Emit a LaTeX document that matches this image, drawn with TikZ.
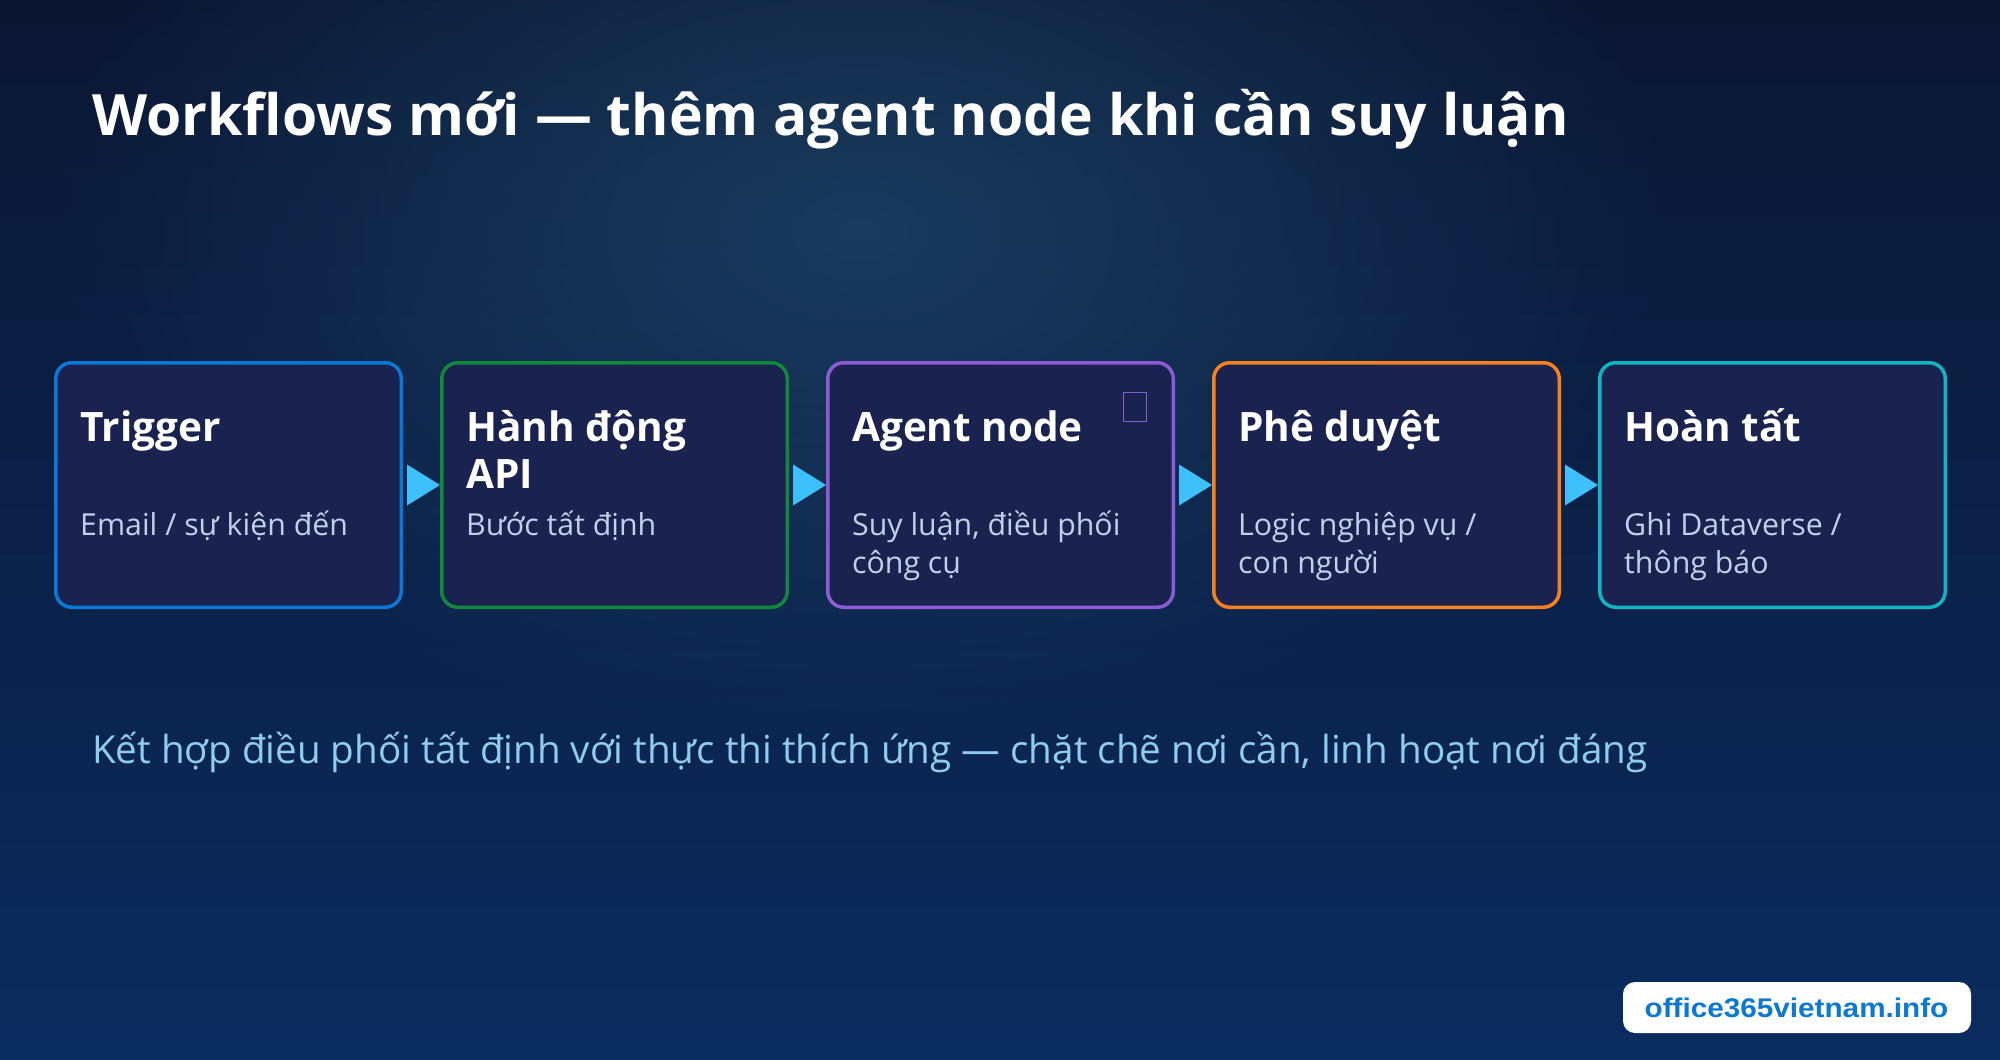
\documentclass[tikz,border=0pt]{standalone}
\usepackage{fontspec}
\setmainfont{Open Sans}
\newfontfamily\badgefont{Liberation Sans}
\usetikzlibrary{fadings,calc}
\definecolor{bgtop}{HTML}{0B1632}
\definecolor{bgbot}{HTML}{0B2C5F}
\definecolor{glowc}{HTML}{1D4467}
\definecolor{boxfill}{HTML}{1A234F}
\definecolor{c1}{HTML}{0B78D8}
\definecolor{c2}{HTML}{12893A}
\definecolor{c3}{HTML}{8B5CD6}
\definecolor{c4}{HTML}{F5821F}
\definecolor{c5}{HTML}{10B5C4}
\definecolor{arrowc}{HTML}{3EC0FA}
\definecolor{subc}{HTML}{C3D0EA}
\definecolor{notec}{HTML}{8FCDF0}
\definecolor{badgec}{HTML}{0A78D4}
\tikzfading[name=glowfade, inner color=transparent!0, outer color=transparent!100]
\tikzset{
  flowbox/.style={draw=#1, line width=3.5pt, rounded corners=16pt, fill=boxfill,
    minimum width=345.5pt, minimum height=244.5pt, inner sep=0pt},
  boxtitle/.style={anchor=base west, inner sep=0pt, text=white,
    font=\fontsize{40.5}{47}\selectfont\bfseries},
  boxsub/.style={anchor=base west, inner sep=0pt, text=subc,
    font=\fontsize{30.3}{38}\selectfont},
  flowarrow/.style={fill=arrowc}
}
\begin{document}
\begin{tikzpicture}[x=1pt,y=-1pt]
\useasboundingbox (0,0) rectangle (2000,1060);
\shade[top color=bgtop, bottom color=bgbot] (0,0) rectangle (2000,1060);
\fill[glowc, path fading=glowfade, opacity=0.8] (860,230) ellipse [x radius=820, y radius=520];

% title
\node[anchor=base west, inner sep=0pt, text=white,
  font=\fontsize{57}{66}\selectfont\bfseries] (title) at (92,135)
  {Workflows mới — thêm agent node khi cần suy luận};

% boxes
\node[flowbox=c1] (b1) at (228.5,485) {};
\node[flowbox=c2] (b2) at (614.5,485) {};
\node[flowbox=c3] (b3) at (1000.5,485) {};
\node[flowbox=c4] (b4) at (1386.5,485) {};
\node[flowbox=c5] (b5) at (1772.5,485) {};

% arrows
\foreach \a/\b in {b1/b2,b2/b3,b3/b4,b4/b5}{
  \fill[flowarrow] ($(\a.east)+(4,-20.5)$) -- (\b.west) -- ($(\a.east)+(4,20.5)$) -- cycle;
}

% texts
\node[boxtitle] (t1) at (80,441) {Trigger};
\node[boxsub] (s1) at (80,535) {Email / sự kiện đến};

\node[boxtitle] (t2a) at (466,441) {Hành động};
\node[boxtitle] (t2b) at (466,488) {API};
\node[boxsub] (s2) at (466,535) {Bước tất định};

\node[boxtitle] (t3) at (852,441) {Agent node};
\node[boxsub] (s3a) at (852,535) {Suy luận, điều phối};
\node[boxsub] (s3b) at (852,573) {công cụ};
\node[draw=c3, line width=1.5pt, minimum width=23pt, minimum height=29pt, inner sep=0pt] (glyph) at (1135,407) {};

\node[boxtitle] (t4) at (1238,441) {Phê duyệt};
\node[boxsub] (s4a) at (1238,535) {Logic nghiệp vụ /};
\node[boxsub] (s4b) at (1238,573) {con người};

\node[boxtitle] (t5) at (1624,441) {Hoàn tất};
\node[boxsub] (s5a) at (1624,535) {Ghi Dataverse /};
\node[boxsub] (s5b) at (1624,573) {thông báo};

% note
\node[anchor=base west, inner sep=0pt, text=notec, font=\fontsize{38.6}{46}\selectfont] (note) at (92,763)
  {Kết hợp điều phối tất định với thực thi thích ứng — chặt chẽ nơi cần, linh hoạt nơi đáng};

% badge
\node[fill=white, rounded corners=12pt, minimum width=348pt, minimum height=51pt, inner sep=0pt] (badge) at (1797,1007.5) {};
\node[anchor=base, inner sep=0pt, text=badgec, xscale=1.1, font=\badgefont\fontsize{27}{30}\selectfont\bfseries] (badgetext) at (1796.5,1017) {office365vietnam.info};
\end{tikzpicture}
\end{document}
